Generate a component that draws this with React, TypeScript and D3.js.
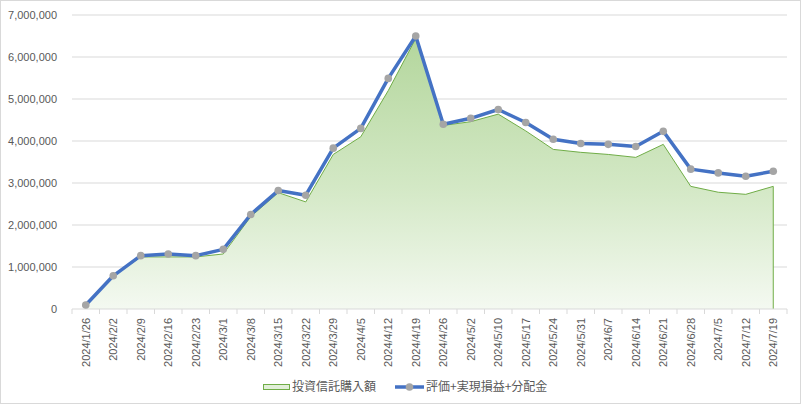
import React from "react";
import * as d3 from "d3";

const dates = [
  "2024/1/26", "2024/2/2", "2024/2/9", "2024/2/16", "2024/2/23", "2024/3/1",
  "2024/3/8", "2024/3/15", "2024/3/22", "2024/3/29", "2024/4/5", "2024/4/12",
  "2024/4/19", "2024/4/26", "2024/5/2", "2024/5/10", "2024/5/17", "2024/5/24",
  "2024/5/31", "2024/6/7", "2024/6/14", "2024/6/21", "2024/6/28", "2024/7/5",
  "2024/7/12", "2024/7/19",
];

// 投資信託購入額 (area)
const purchase = [
  90000, 780000, 1240000, 1240000, 1240000, 1310000,
  2200000, 2770000, 2550000, 3680000, 4100000, 5200000,
  6440000, 4370000, 4460000, 4640000, 4240000, 3800000,
  3730000, 3680000, 3610000, 3920000, 2920000, 2780000,
  2730000, 2920000,
];

// 評価+実現損益+分配金 (line)
const valuation = [
  95000, 790000, 1270000, 1310000, 1270000, 1420000,
  2250000, 2820000, 2710000, 3830000, 4300000, 5490000,
  6500000, 4400000, 4540000, 4750000, 4440000, 4040000,
  3940000, 3920000, 3870000, 4230000, 3330000, 3240000,
  3160000, 3280000,
];

const yTicks = [0, 1000000, 2000000, 3000000, 4000000, 5000000, 6000000, 7000000];

const W = 803;
const H = 408;
const left = 72;
const right = 787;
const top = 15;
const bottom = 309;
const font = "'Liberation Sans', Arial, sans-serif";
const cjk = "'Noto Sans CJK JP', sans-serif";

export default function App() {
  const x = d3.scaleBand<string>().domain(dates).range([left, right]).padding(0);
  const y = d3.scaleLinear().domain([0, 7000000]).range([bottom, top]);
  const cx = (d: string) => (x(d) ?? 0) + x.bandwidth() / 2;
  const fmt = d3.format(",");

  const area = d3
    .area<number>()
    .x((_, i) => cx(dates[i]))
    .y0(y(0))
    .y1((d) => y(d));
  const areaTop = d3
    .line<number>()
    .x((_, i) => cx(dates[i]))
    .y((d) => y(d));
  const line = d3
    .line<number>()
    .x((_, i) => cx(dates[i]))
    .y((d) => y(d));

  const lastX = cx(dates[dates.length - 1]);

  return (
    <svg
      width={W}
      height={H}
      style={{ position: "absolute", left: 0, top: 0, background: "#fff" }}
    >
      <defs>
        <linearGradient id="areaFill" gradientUnits="userSpaceOnUse" x1="0" y1={y(6500000)} x2="0" y2={bottom}>
          <stop offset="0%" stopColor="#b3d69c" />
          <stop offset="55%" stopColor="#d3e8c5" />
          <stop offset="100%" stopColor="#f4f9f1" />
        </linearGradient>
      </defs>
      <rect x={0.5} y={0.5} width={W - 3} height={H - 5} fill="#fff" stroke="#d9d9d9" />

      {yTicks.map((t) => (
        <g key={t}>
          {t > 0 && (
            <line x1={left} x2={right} y1={y(t)} y2={y(t)} stroke="#d9d9d9" strokeWidth={1} />
          )}
          <text
            x={57}
            y={y(t)}
            dy="0.35em"
            textAnchor="end"
            fontFamily={font}
            fontSize={11}
            fill="#595959"
          >
            {fmt(t)}
          </text>
        </g>
      ))}

      <path d={area(purchase) ?? ""} fill="url(#areaFill)" />
      <path d={areaTop(purchase) ?? ""} fill="none" stroke="#70ad47" strokeWidth={1} />
      <line x1={lastX} x2={lastX} y1={y(purchase[purchase.length - 1])} y2={bottom} stroke="#70ad47" strokeWidth={1} />

      {/* x axis */}
      <line x1={left} x2={right} y1={bottom} y2={bottom} stroke="#d9d9d9" />
      {[...dates.map((d) => x(d) ?? 0), right].map((px, i) => (
        <line key={i} x1={px} x2={px} y1={bottom} y2={bottom + 5} stroke="#d9d9d9" />
      ))}
      {dates.map((d) => (
        <text
          key={d}
          transform={`translate(${cx(d) + 4},${bottom + 9}) rotate(-90)`}
          textAnchor="end"
          fontFamily={font}
          fontSize={11}
          fill="#595959"
        >
          {d}
        </text>
      ))}

      <path d={line(valuation) ?? ""} fill="none" stroke="#4472c4" strokeWidth={3.5} strokeLinejoin="round" />
      {valuation.map((v, i) => (
        <circle key={i} cx={cx(dates[i])} cy={y(v)} r={3.8} fill="#a5a5a5" />
      ))}

      {/* legend */}
      <rect x={263.5} y={384.5} width={26} height={5} fill="#e2efd9" stroke="#70ad47" />
      <text x={292} y={387} dy="0.35em" fontFamily={cjk} fontSize={12} fill="#595959">
        投資信託購入額
      </text>
      <line x1={395} x2={424} y1={387} y2={387} stroke="#4472c4" strokeWidth={3.5} />
      <circle cx={409.5} cy={387} r={3.8} fill="#a5a5a5" />
      <text x={426} y={387} dy="0.35em" fontFamily={cjk} fontSize={12} fill="#595959">
        評価+実現損益+分配金
      </text>
    </svg>
  );
}
